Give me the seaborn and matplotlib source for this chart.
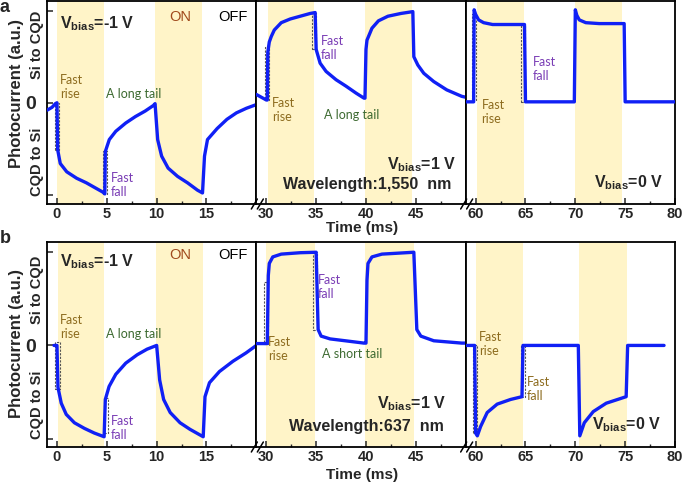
import matplotlib
matplotlib.use("Agg")
import matplotlib.pyplot as plt
from matplotlib.patches import Rectangle
from matplotlib.lines import Line2D
import seaborn as sns

# ---- panel a (1,550 nm) : time (ms) / photocurrent (a.u.) per segment ----
a1_t = [-0.98, -0.5, -0.16, 0.0, 0.07, 0.33, 0.98, 1.97, 2.95, 3.93, 4.59, 4.8, 4.85, 5.25, 5.9, 6.9,
        7.87, 8.85, 9.67, 9.84, 10.1, 10.5, 11.15, 12.1, 13.1, 14.1, 14.6, 14.8, 15.1, 16.07, 17.05,
        18.0, 19.0, 20.0]
a1_y = [-0.08, -0.05, -0.01, 0.0, -0.51, -0.66, -0.75, -0.82, -0.87, -0.93, -0.97, -0.99, -0.53, -0.40,
        -0.31, -0.22, -0.15, -0.09, -0.03, -0.01, -0.40, -0.58, -0.71, -0.80, -0.87, -0.95, -0.98, -0.58,
        -0.40, -0.28, -0.18, -0.11, -0.06, -0.02]
a2_t = [29.0, 29.5, 30.0, 30.1, 30.15, 30.3, 30.5, 30.8, 31.5, 32.4, 33.4, 34.4, 34.9, 35.0, 35.4, 36.0,
        37.0, 38.0, 39.0, 39.8, 39.9, 40.0, 40.1, 40.6, 41.25, 42.2, 43.5, 44.7, 44.8, 45.2, 45.8, 46.8,
        48.1, 49.6, 50.0]
a2_y = [0.09, 0.06, 0.03, 0.03, 0.55, 0.66, 0.72, 0.79, 0.87, 0.91, 0.94, 0.97, 0.98, 0.58, 0.43, 0.34,
        0.25, 0.18, 0.105, 0.05, 0.05, 0.58, 0.68, 0.81, 0.89, 0.94, 0.97, 0.99, 0.50, 0.41, 0.32, 0.23,
        0.14, 0.07, 0.06]
a3_t = [59.0, 59.8, 59.85, 60.0, 60.3, 60.8, 61.7, 63.4, 64.9, 65.0, 69.9, 70.0, 70.15, 70.4, 71.05,
        72.4, 74.9, 75.0, 80.0]
a3_y = [0.01, 0.01, 1.01, 0.96, 0.90, 0.87, 0.85, 0.85, 0.85, 0.01, 0.01, 1.01, 0.95, 0.90, 0.87,
        0.86, 0.86, 0.01, 0.01]

# ---- panel b (637 nm) ----
b1_t = [-0.3, -0.05, 0.0, 0.1, 0.43, 0.93, 1.75, 2.75, 3.74, 4.73, 4.85, 5.23, 5.9, 6.9, 8.05, 9.04,
        10.0, 10.3, 10.7, 11.36, 12.35, 13.34, 14.67, 14.85, 15.3, 16.3, 17.65, 18.97, 20.0]
b1_y = [0.0, 0.0, 0.0, -0.45, -0.62, -0.74, -0.83, -0.89, -0.94, -0.98, -0.58, -0.44, -0.31, -0.19,
        -0.10, -0.04, 0.0, -0.37, -0.58, -0.72, -0.83, -0.90, -0.98, -0.55, -0.40, -0.28, -0.17, -0.08, 0.0]
b2_t = [29.0, 30.0, 30.1, 30.2, 30.3, 30.65, 31.5, 33.4, 35.0, 35.2, 35.5, 36.4, 38.3, 39.8, 40.0, 40.1,
        40.2, 40.6, 41.6, 44.8, 45.1, 45.5, 46.8, 49.6, 50.0]
b2_y = [0.02, 0.02, 0.02, 0.75, 0.88, 0.95, 0.98, 0.995, 1.0, 0.17, 0.10, 0.07, 0.045, 0.025, 0.025, 0.70,
        0.88, 0.95, 0.98, 1.0, 0.17, 0.10, 0.05, 0.025, 0.025]
b3_t = [59.0, 59.9, 60.0, 60.17, 60.5, 61.16, 62.16, 63.5, 64.65, 64.75, 70.3, 70.45, 70.9, 71.8, 73.1,
        75.1, 75.25, 78.9]
b3_y = [0.0, 0.0, -0.94, -0.97, -0.87, -0.72, -0.63, -0.58, -0.55, 0.0, 0.0, -0.97, -0.83, -0.71, -0.62,
        -0.55, 0.0, 0.0]

# light ON windows (ms)
a_on = [(0.0, 4.7), (9.8, 14.5), (30.2, 34.8), (39.9, 44.6), (60.1, 64.9), (70.0, 74.7)]
b_on = [(0.1, 4.75), (9.9, 14.65), (30.0, 34.9), (39.9, 44.8), (60.0, 64.75), (70.4, 75.2)]

# dashed boxes marking fast rise / fall (t0, t1, y0, y1)
a_boxes = [(-0.23, 0.16, -0.51, 0.0), (4.66, 4.98, -0.99, -0.52), (29.84, 30.23, 0.03, 0.61),
           (34.56, 34.99, 0.58, 0.97), (59.67, 60.0, 0.03, 0.96), (64.6, 64.96, 0.01, 0.85)]
b_boxes = [(-0.23, 0.26, -0.47, 0.04), (4.73, 5.13, -0.94, -0.56), (29.8, 30.2, 0.02, 0.68),
           (34.7, 35.05, 0.17, 1.0), (59.7, 60.1, -0.94, 0.0), (64.6, 65.0, -0.55, 0.0)]

seg_lims = [(-1, 20), (29, 50), (59, 80)]
seg_ticks = [[0, 5, 10, 15], [30, 35, 40, 45], [60, 65, 70, 75, 80]]
seg_minor = [[2.5, 7.5, 12.5, 17.5], [32.5, 37.5, 42.5, 47.5], [62.5, 67.5, 72.5, 77.5]]

sns.set_style("ticks")
plt.rcParams["font.family"] = ["Liberation Sans", "DejaVu Sans"]
plt.rcParams["mathtext.fontset"] = "custom"
plt.rcParams["mathtext.rm"] = "Liberation Sans:bold"
plt.rcParams["mathtext.it"] = "Liberation Sans:bold"
plt.rcParams["mathtext.bf"] = "Liberation Sans:bold"

BLUE = "#1020f5"
SHADE = "#fff4c8"
RISE = "#8d6c1f"
FALL = "#7a3db5"
TAIL = "#3d6a31"
ANN = ["Lato", "DejaVu Sans"]

W, H = 685, 486
fig = plt.figure(figsize=(6.85, 4.86), dpi=100)


def fig_box(x0, y0, x1, y1):
    return [x0 / W, 1 - y1 / H, (x1 - x0) / W, (y1 - y0) / H]


def make_panel(top, bottom, ylim, curves, on, boxes):
    left, right = 47, 675
    sw = (right - left) / 3
    axes = []
    for i in range(3):
        ax = fig.add_axes(fig_box(left + i * sw, top, left + (i + 1) * sw, bottom))
        for s, e in on:
            if seg_lims[i][0] <= s <= seg_lims[i][1]:
                ax.axvspan(s, e, color=SHADE, lw=0, zorder=0)
        for t0, t1, y0, y1 in boxes:
            if seg_lims[i][0] <= t0 <= seg_lims[i][1]:
                ax.add_patch(Rectangle((t0, y0), t1 - t0, y1 - y0, fill=False, lw=0.8,
                                       ls=(0, (2, 1.2)), ec="#555555", zorder=2))
        t, y = curves[i]
        sns.lineplot(x=t, y=y, ax=ax, color=BLUE, lw=2.4, estimator=None, sort=False, zorder=3)
        ax.set_xlim(*seg_lims[i])
        ax.set_ylim(*ylim)
        ax.set_xticks(seg_ticks[i])
        ax.set_xticks(seg_minor[i], minor=True)
        ax.set_xticklabels([str(v) for v in seg_ticks[i]], fontsize=10.5, fontweight="bold")
        ax.tick_params(axis="x", which="major", direction="in", length=4, width=1.1, pad=2.5)
        ax.tick_params(axis="x", which="minor", direction="in", length=2.5, width=1.0)
        if i == 0:
            ax.set_yticks([-1, 0, 1])
            ax.set_yticklabels(["", "0", ""], fontsize=14, fontweight="bold")
            ax.tick_params(axis="y", direction="in", length=4, width=1.1, pad=8)
        else:
            ax.set_yticks([])
        ax.set_xlabel("")
        ax.set_ylabel("")
        for sp in ax.spines.values():
            sp.set_linewidth(1.3)
            sp.set_color("black")
        axes.append(ax)
    # axis-break marks on the bottom axis
    for k in (1, 2):
        xb = left + k * sw + 2
        for dx in (-4, 2):
            fig.add_artist(Line2D([(xb + dx - 3) / W, (xb + dx + 3) / W],
                                  [1 - (bottom + 5) / H, 1 - (bottom - 5) / H],
                                  color="black", lw=1.1, transform=fig.transFigure))
    return axes


axA = make_panel(1.5, 204, (-1.1, 1.1), [(a1_t, a1_y), (a2_t, a2_y), (a3_t, a3_y)], a_on, a_boxes)
axB = make_panel(242, 447, (-1.09, 1.11), [(b1_t, b1_y), (b2_t, b2_y), (b3_t, b3_y)], b_on, b_boxes)

bias = lambda v: r"V$_{\mathrm{bias}}$=" + v + " V"


def ann(ax, x, y, s, c, ha="left"):
    ax.text(x, y, s, color=c, ha=ha, va="center", fontsize=9, family=ANN, linespacing=1.2, zorder=4)


def bold(ax, x, y, s, ha="left", size=11.5):
    ax.text(x, y, s, ha=ha, va="center", fontsize=size, fontweight="bold", zorder=4)


for axs, onv, fr_y, tail_y, lab in [(axA, 0.93, 0.17, 0.10, "a"), (axB, 0.97, 0.20, 0.125, "b")]:
    ax = axs[0]
    bold(ax, 0.3, onv - 0.07, bias("-1"))
    ax.text(12.4, onv, "ON", color="#a04a1c", ha="center", va="center", fontsize=10.5)
    ax.text(17.7, onv, "OFF", color="black", ha="center", va="center", fontsize=10.5)
    ann(ax, 0.3, fr_y, "Fast\nrise", RISE)
    ann(ax, 4.9, tail_y, "A long tail", TAIL)
    ann(ax, 5.4, -0.89, "Fast\nfall", FALL)

# panel a, segments 2-3
ann(axA[1], 35.5, 0.60, "Fast\nfall", FALL)
ann(axA[1], 30.6, -0.08, "Fast\nrise", RISE)
ann(axA[1], 35.8, -0.13, "A long tail", TAIL)
bold(axA[1], 49.0, -0.67, bias("1"), ha="right")
bold(axA[1], 40.1, -0.89, "Wavelength:1,550  nm", ha="center")
ann(axA[2], 65.7, 0.37, "Fast\nfall", FALL)
ann(axA[2], 60.6, -0.10, "Fast\nrise", RISE)
bold(axA[2], 78.8, -0.87, bias("0"), ha="right")

# panel b, segments 2-3
ann(axB[1], 35.2, 0.63, "Fast\nfall", FALL)
ann(axB[1], 30.2, -0.035, "Fast\nrise", RISE)
ann(axB[1], 35.6, -0.09, "A short tail", TAIL)
bold(axB[1], 48.0, -0.63, bias("1"), ha="right")
bold(axB[1], 40.0, -0.87, "Wavelength:637  nm", ha="center")
ann(axB[2], 60.3, 0.02, "Fast\nrise", RISE)
ann(axB[2], 65.1, -0.47, "Fast\nfall", RISE)
bold(axB[2], 78.6, -0.85, bias("0"), ha="right")

# labels around the axes (figure pixels)
def ftext(x, y, s, **kw):
    fig.text(x / W, 1 - y / H, s, ha="center", va="center", fontweight="bold", **kw)


ftext(5, 8, "a", fontsize=13)
ftext(5, 238, "b", fontsize=13)
for cy, sy, qy in [(93, 45, 162), (343, 290, 405)]:
    ftext(17, cy, "Photocurrent (a.u.)", fontsize=12, rotation=90)
    ftext(37, sy, "Si to CQD", fontsize=10.5, rotation=90)
    ftext(37, qy, "CQD to Si", fontsize=10.5, rotation=90)
ftext(362, 228, "Time (ms)", fontsize=11)
ftext(362, 475, "Time (ms)", fontsize=11)

fig.savefig("out.png", dpi=100)
